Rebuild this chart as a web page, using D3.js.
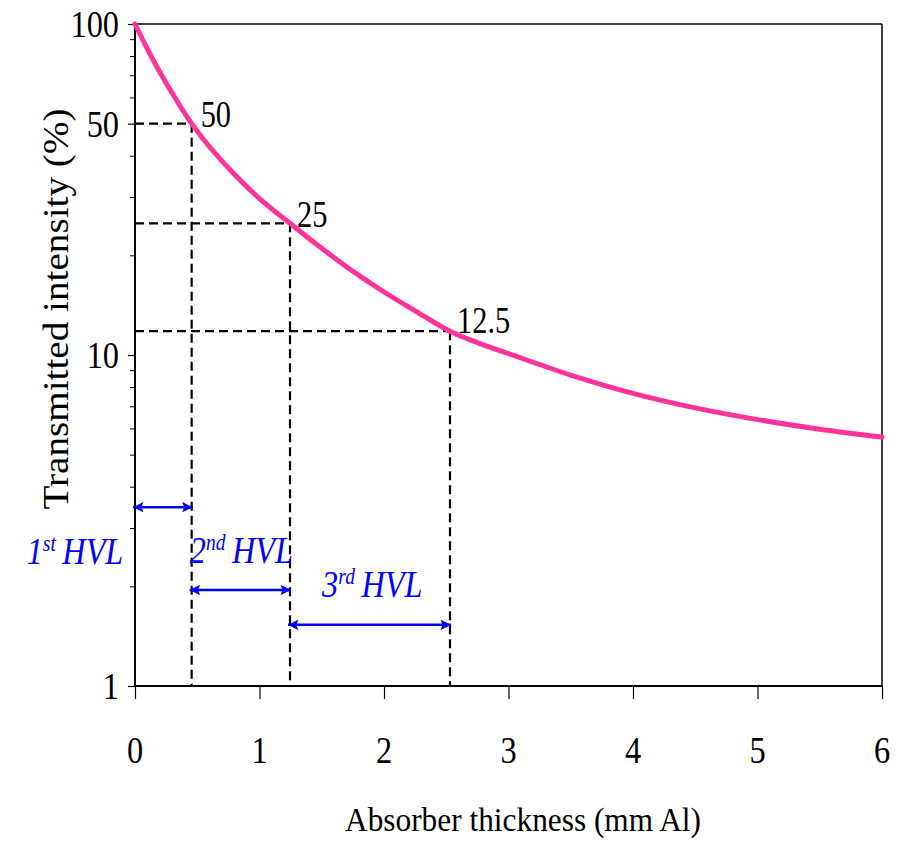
<!DOCTYPE html>
<html>
<head>
<meta charset="utf-8">
<script src="https://cdn.jsdelivr.net/npm/d3@7"></script>
<style>
  html, body { margin: 0; padding: 0; background: #ffffff; }
</style>
</head>
<body>
<svg id="chart" width="912" height="868"></svg>
<script>
// ---------- data ----------
const thickness = [0, 0.1, 0.2, 0.3, 0.455, 0.6, 0.8, 1.0, 1.245, 1.5, 1.75, 2.0, 2.25, 2.53, 2.75, 3.0, 3.5, 4.0, 4.5, 5.0, 5.5, 6.0];
const intensity = [100, 84.0, 71.5, 61.7, 50, 42.5, 35.1, 29.7, 25, 21.0, 17.9, 15.5, 13.6, 11.8, 10.9, 10.1, 8.7, 7.66, 6.92, 6.38, 5.97, 5.65];

const xTickValues = [0, 1, 2, 3, 4, 5, 6];
const yLabelValues = [1, 10, 50, 100];
const yMinorValues = [2, 3, 4, 5, 6, 7, 8, 9, 20, 30, 40, 60, 70, 80, 90];

const hvlThickness = [0.455, 1.245, 2.53];     // where the curve halves
const hvlLevel = [50, 25, 11.8];               // drawn level of each halving
const hvlValueLabels = ["50", "25", "12.5"];
const hvlStart = [0, 0.455, 1.245];
const hvlArrowLevel = [3.47, 1.95, 1.53];
const hvlNames = [["1", "st"], ["2", "nd"], ["3", "rd"]];
const hvlNameX = [-0.87, 0.44, 1.503];
const hvlNameLevel = [2.33, 2.36, 1.86];

const xTitle = "Absorber thickness (mm Al)";
const yTitle = "Transmitted intensity (%)";

// ---------- layout ----------
const FONT = "'Liberation Serif'";
const svg = d3.select("#chart");
const L = 135, R = 882, T = 24, B = 686;
const x = d3.scaleLinear().domain([0, 6]).range([L, R]);
const y = d3.scaleLog().domain([1, 100]).range([B, T]);

function label(g, px, py, str, size, sx, anchor) {
  return g.append("text")
    .attr("transform", `translate(${px},${py}) scale(${sx},1)`)
    .style("font-family", FONT)
    .attr("font-size", size)
    .attr("fill", "#000")
    .attr("text-anchor", anchor || "start")
    .text(str);
}

// frame (top & right)
svg.append("line").attr("x1", L).attr("x2", R).attr("y1", T).attr("y2", T)
  .attr("stroke", "#000").attr("stroke-width", 1.5);
svg.append("line").attr("x1", R).attr("x2", R).attr("y1", T).attr("y2", B)
  .attr("stroke", "#000").attr("stroke-width", 1.5);

// x axis
const xAxis = svg.append("g").attr("transform", `translate(0,${B})`)
  .call(d3.axisBottom(x).tickValues(xTickValues).tickSize(13).tickFormat(""));
xAxis.select(".domain").attr("stroke-width", 2).attr("d", `M${L},0H${R}`);
xAxis.selectAll(".tick line").attr("stroke-width", 1.2);
xTickValues.forEach(v => label(svg, x(v), 763, String(v), 39, 0.83, "middle"));

// y axis
const yAxis = svg.append("g").attr("transform", `translate(${L},0)`)
  .call(d3.axisLeft(y).tickValues(yLabelValues).tickSize(7).tickFormat(""));
yAxis.select(".domain").attr("stroke-width", 2).attr("d", `M0,${T}V${B}`);
yAxis.selectAll(".tick line").attr("stroke-width", 1.2);
svg.append("g").attr("transform", `translate(${L},0)`)
  .call(d3.axisLeft(y).tickValues(yMinorValues).tickSize(5).tickFormat(""))
  .call(g => g.select(".domain").remove())
  .selectAll(".tick line").attr("stroke-width", 1);
yLabelValues.forEach(v => label(svg, 119, y(v) + 13, String(v), 39, 0.83, "end"));

// dashed guides
const guides = svg.append("g").attr("stroke", "#000").attr("stroke-width", 2.2)
  .attr("stroke-dasharray", "9,5").attr("fill", "none");
hvlThickness.forEach((t, i) => {
  guides.append("line").attr("x1", x(0)).attr("x2", x(t)).attr("y1", y(hvlLevel[i])).attr("y2", y(hvlLevel[i]));
  guides.append("line").attr("x1", x(t)).attr("x2", x(t)).attr("y1", y(hvlLevel[i])).attr("y2", y(1));
});

// curve
const pts = thickness.map((t, i) => [t, intensity[i]]);
svg.append("path").datum(pts)
  .attr("fill", "none").attr("stroke", "#ff3399").attr("stroke-width", 5)
  .attr("stroke-linecap", "round")
  .attr("d", d3.line().x(d => x(d[0])).y(d => y(d[1])).curve(d3.curveCatmullRom.alpha(0.5)));

// value labels
const valOffsetX = [9, 7, 7];
const valOffsetY = [3, 4, 2];
hvlValueLabels.forEach((s, i) => {
  label(svg, x(hvlThickness[i]) + valOffsetX[i], y(hvlLevel[i]) + valOffsetY[i], s, 38, 0.8, "start");
});

// HVL arrows
const defs = svg.append("defs");
["start", "end"].forEach(k => {
  defs.append("marker").attr("id", "ar-" + k)
    .attr("viewBox", "0 0 10 10").attr("refX", k === "end" ? 10 : 0).attr("refY", 5)
    .attr("markerWidth", 5.2).attr("markerHeight", 4.2).attr("orient", "auto")
    .attr("markerUnits", "strokeWidth")
    .append("path")
    .attr("d", k === "end" ? "M0,0L10,5L0,10L2,5Z" : "M10,0L0,5L10,10L8,5Z")
    .attr("fill", "#0000ff");
});
hvlStart.forEach((s, i) => {
  svg.append("line")
    .attr("x1", x(s) - 2).attr("x2", x(hvlThickness[i]) + 1)
    .attr("y1", y(hvlArrowLevel[i])).attr("y2", y(hvlArrowLevel[i]))
    .attr("stroke", "#0000ff").attr("stroke-width", 2.5)
    .attr("marker-start", "url(#ar-start)").attr("marker-end", "url(#ar-end)");
});

// HVL names
hvlNames.forEach((n, i) => {
  const t = svg.append("text")
    .attr("transform", `translate(${x(hvlNameX[i])},${y(hvlNameLevel[i])}) scale(0.85,1)`)
    .style("font-family", FONT)
    .attr("font-size", 38).attr("font-style", "italic").attr("fill", "#0000ff");
  t.append("tspan").text(n[0]);
  t.append("tspan").attr("font-size", 23).attr("dy", -13).text(n[1]);
  t.append("tspan").attr("dy", 13).text("\u2009HVL");
});

// axis titles
label(svg, 523, 831, xTitle, 33, 0.95, "middle");
svg.append("text")
  .attr("transform", `translate(68,309) rotate(-90) scale(1.12,1)`)
  .style("font-family", FONT)
  .attr("font-size", 35).attr("fill", "#000").attr("text-anchor", "middle").text(yTitle);
</script>
</body>
</html>
